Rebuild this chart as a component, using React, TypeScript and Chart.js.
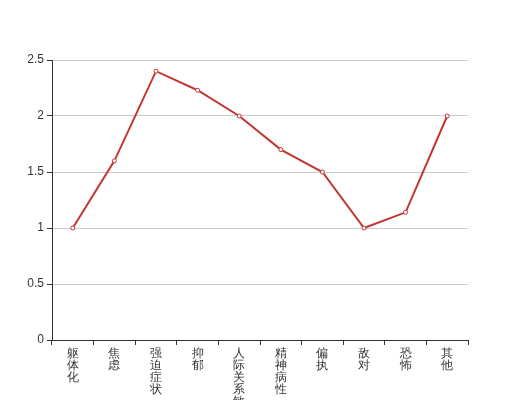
import React, { useEffect, useRef } from "react";
import { Chart, registerables } from "chart.js";

Chart.register(...registerables);

const categories: string[] = ["躯体化", "焦虑", "强迫症状", "抑郁", "人际关系敏感", "精神病性", "偏执", "敌对", "恐怖", "其他"];
const values: number[] = [1, 1.6, 2.4, 2.23, 2.0, 1.7, 1.5, 1.0, 1.14, 2.0];
const yMin = 0;
const yMax = 2.5;
const yStep = 0.5;

export default function App() {
  const ref = useRef<HTMLCanvasElement | null>(null);

  useEffect(() => {
    if (!ref.current) return;
    const font = { family: "sans-serif", size: 12, lineHeight: 1 };
    const chart = new Chart(ref.current, {
      type: "line",
      data: {
        labels: categories.map((c) => Array.from(c)),
        datasets: [
          {
            data: values,
            borderColor: "#c23531",
            borderWidth: 2,
            backgroundColor: "#ffffff",
            pointBackgroundColor: "#ffffff",
            pointBorderColor: "#c23531",
            pointBorderWidth: 1,
            pointRadius: 2,
            tension: 0,
            fill: false,
          },
        ],
      },
      options: {
        responsive: false,
        animation: false,
        layout: { padding: { top: 60, right: 52, left: 0, bottom: 0 } },
        plugins: { legend: { display: false }, tooltip: { enabled: false } },
        scales: {
          x: {
            type: "category",
            offset: true,
            afterFit: (s: any) => {
              s.height = 60;
            },
            grid: {
              offset: true,
              drawOnChartArea: false,
              drawTicks: true,
              tickLength: 5,
              tickColor: "#333",
              tickWidth: 1,
            },
            border: { display: true, color: "#333", width: 1 },
            ticks: {
              color: "#333",
              font,
              padding: 3,
              maxRotation: 0,
              minRotation: 0,
              autoSkip: false,
            },
          },
          y: {
            min: yMin,
            max: yMax,
            afterFit: (s: any) => {
              s.width = 52;
            },
            grid: {
              color: "#cccccc",
              tickColor: "#333",
              tickLength: 5,
              lineWidth: 1,
            },
            border: { display: true, color: "#333", width: 1 },
            ticks: {
              stepSize: yStep,
              color: "#333",
              font,
              padding: 3,
              callback: (v: any) => String(Number(v)),
            },
          },
        },
      },
    });
    return () => chart.destroy();
  }, []);

  return (
    <div style={{ position: "absolute", left: 0, top: 0, width: 520, height: 400, background: "#fff" }}>
      <canvas ref={ref} width={520} height={400} />
    </div>
  );
}
